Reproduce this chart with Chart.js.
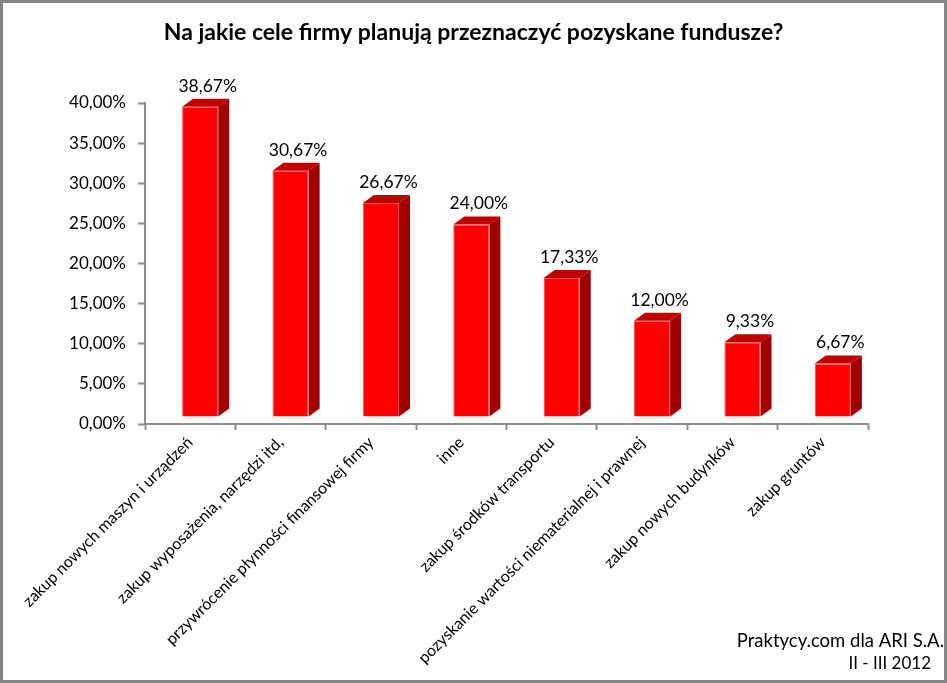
<!DOCTYPE html>
<html lang="pl">
<head>
    <meta charset="UTF-8">
    <title>Na jakie cele firmy planują przeznaczyć pozyskane fundusze?</title>
    <script src="https://cdn.jsdelivr.net/npm/chart.js"></script>
    <style>
        html, body { margin: 0; padding: 0; background: #fff; }
        #wrap { width: 947px; height: 683px; position: relative; }
    </style>
</head>
<body>
<div id="wrap"><canvas id="chart" width="947" height="683"></canvas></div>
<script>
    const categories = [
        'zakup nowych maszyn i urządzeń',
        'zakup wyposażenia, narzędzi itd,',
        'przywrócenie płynności finansowej firmy',
        'inne',
        'zakup środków transportu',
        'pozyskanie wartości niematerialnej i prawnej',
        'zakup nowych budynków',
        'zakup gruntów'
    ];
    const shares = [38.67, 30.67, 26.67, 24.00, 17.33, 12.00, 9.33, 6.67];
    const yTicks = [0, 5, 10, 15, 20, 25, 30, 35, 40];
    const footerLines = ['Praktycy.com dla ARI S.A.', 'II - III 2012'];

    const FONT = 'Lato, "Open Sans", sans-serif';
    const shift = { x: 10, y: -7 };   // przesunięcie przedniej ściany słupka
    const depth = { x: 11, y: -8 };   // głębokość efektu 3D

    function pct(v) {
        return v.toFixed(2).replace('.', ',') + '%';
    }

    const bars3d = {
        id: 'bars3d',
        beforeDatasetsDraw(chart) {
            const ctx = chart.ctx;
            ctx.save();
            ctx.translate(shift.x, shift.y);
            chart.getDatasetMeta(0).data.forEach(bar => {
                const l = bar.x - bar.width / 2, r = bar.x + bar.width / 2;
                const t = bar.y, b = bar.base;
                // bok
                ctx.fillStyle = '#a00000';
                ctx.beginPath();
                ctx.moveTo(r, t);
                ctx.lineTo(r + depth.x, t + depth.y);
                ctx.lineTo(r + depth.x, b + depth.y);
                ctx.lineTo(r, b);
                ctx.closePath();
                ctx.fill();
                // góra
                ctx.fillStyle = '#c00000';
                ctx.beginPath();
                ctx.moveTo(l, t);
                ctx.lineTo(l + depth.x, t + depth.y);
                ctx.lineTo(r + depth.x, t + depth.y);
                ctx.lineTo(r, t);
                ctx.closePath();
                ctx.fill();
            });
        },
        afterDatasetsDraw(chart) {
            const ctx = chart.ctx;
            ctx.fillStyle = '#000';
            ctx.font = '17.5px ' + FONT;
            ctx.textAlign = 'center';
            ctx.textBaseline = 'alphabetic';
            chart.getDatasetMeta(0).data.forEach((bar, i) => {
                ctx.fillText(pct(shares[i]), bar.x + depth.x / 2 + 2, bar.y + depth.y - 7);
            });
            ctx.restore();
        },
        afterDraw(chart) {
            const ctx = chart.ctx;
            ctx.save();
            ctx.fillStyle = '#000';
            ctx.font = '18.5px ' + FONT;
            ctx.textAlign = 'right';
            ctx.fillText(footerLines[0], 944, 647);
            ctx.font = '17px ' + FONT;
            ctx.fillText(footerLines[1], 931, 669);
            ctx.strokeStyle = '#868686';
            ctx.lineWidth = 3;
            ctx.strokeRect(1.5, 1.5, 944, 680);
            ctx.restore();
        }
    };

    new Chart(document.getElementById('chart'), {
        type: 'bar',
        data: {
            labels: categories,
            datasets: [{
                data: shares,
                backgroundColor: '#ff0000',
                borderColor: '#ff5050',
                borderWidth: 1,
                barPercentage: 0.4,
                categoryPercentage: 1.0
            }]
        },
        options: {
            responsive: false,
            animation: false,
            layout: { padding: 0 },
            plugins: {
                legend: { display: false },
                tooltip: { enabled: false },
                title: {
                    display: true,
                    text: 'Na jakie cele firmy planują przeznaczyć pozyskane fundusze?',
                    color: '#000',
                    font: { family: FONT, size: 23, weight: 'bold' },
                    padding: { top: 19, bottom: 56.4 }
                }
            },
            scales: {
                x: {
                    grid: {
                        display: true,
                        drawOnChartArea: false,
                        drawTicks: true,
                        tickLength: 6,
                        tickColor: '#8c8c8c',
                        tickWidth: 2,
                        offset: true
                    },
                    border: { color: '#8c8c8c', width: 2 },
                    ticks: {
                        autoSkip: false,
                        minRotation: 45,
                        maxRotation: 45,
                        color: '#000',
                        font: { family: FONT, size: 16 }
                    },
                    afterFit(s) { s.height = 259; }
                },
                y: {
                    min: yTicks[0],
                    max: yTicks[yTicks.length - 1],
                    afterBuildTicks(s) { s.ticks = yTicks.map(v => ({ value: v })); },
                    grid: {
                        drawOnChartArea: false,
                        tickLength: 7,
                        tickColor: '#8c8c8c',
                        tickWidth: 2
                    },
                    border: { color: '#8c8c8c', width: 2 },
                    ticks: {
                        color: '#000',
                        padding: 12,
                        font: { family: FONT, size: 17 },
                        callback: v => pct(v)
                    },
                    afterFit(s) { s.width = 145; }
                },
                // pusta oś po prawej - tylko rezerwuje miejsce
                yRight: {
                    position: 'right',
                    min: yTicks[0],
                    max: yTicks[yTicks.length - 1],
                    grid: { drawOnChartArea: false, drawTicks: false },
                    border: { display: false },
                    ticks: { display: false },
                    afterFit(s) { s.width = 79; }
                }
            }
        },
        plugins: [bars3d]
    });
</script>
</body>
</html>
